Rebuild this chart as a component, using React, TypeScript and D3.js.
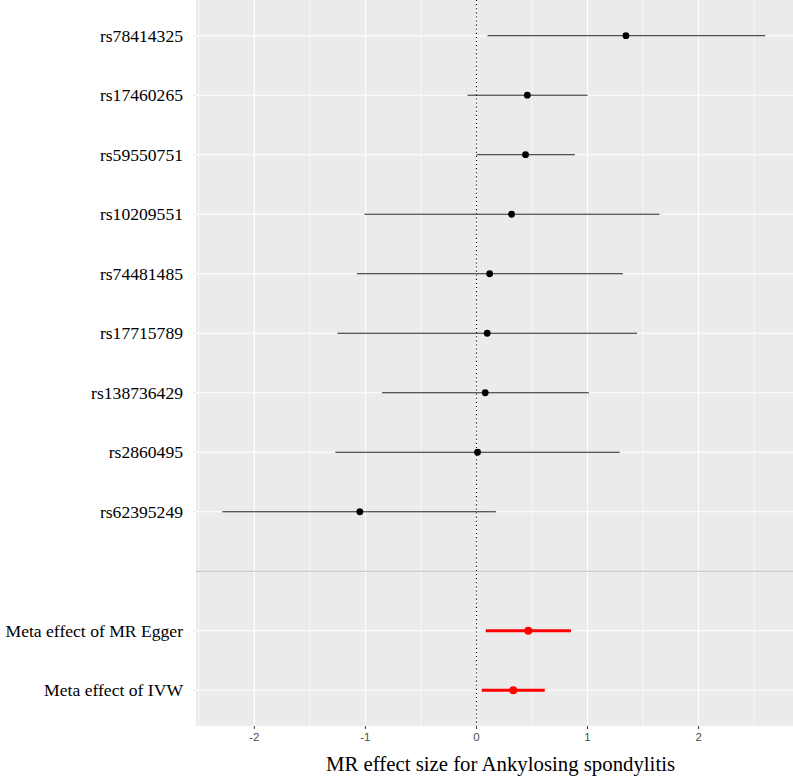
import React from "react";
import * as d3 from "d3";

// SNP-level and pooled MR estimates (effect size with 95% CI)
const snpNames = [
  "rs78414325",
  "rs17460265",
  "rs59550751",
  "rs10209551",
  "rs74481485",
  "rs17715789",
  "rs138736429",
  "rs2860495",
  "rs62395249",
];
const snpEffect = [1.346, 0.458, 0.442, 0.316, 0.119, 0.097, 0.079, 0.01, -1.05];
const snpLower = [0.1, -0.08, 0.0, -1.009, -1.077, -1.251, -0.85, -1.27, -2.287];
const snpUpper = [2.6, 1.0, 0.886, 1.648, 1.318, 1.446, 1.012, 1.29, 0.175];

const metaNames = ["Meta effect of MR Egger", "Meta effect of IVW"];
const metaEffect = [0.467, 0.332];
const metaLower = [0.084, 0.048];
const metaUpper = [0.851, 0.615];

const separatorKey = "__separator__";
const xTicks = [-2, -1, 0, 1, 2];
const xMinorTicks = [-2.5, -1.5, -0.5, 0.5, 1.5, 2.5];
const xDomain: [number, number] = [-2.525, 2.85];
const xTitle = "MR effect size for Ankylosing spondylitis";

const W = 793;
const H = 777;
const panel = { left: 196, right: 793, top: 0, bottom: 726 };

export default function App() {
  const rows = [...snpNames, separatorKey, ...metaNames];
  const x = d3.scaleLinear().domain(xDomain).range([panel.left, panel.right]);
  const y = d3
    .scalePoint<string>()
    .domain(rows)
    .range([panel.top, panel.bottom])
    .padding(0.6);

  const snpRows = snpNames.map((name, i) => ({
    name,
    est: snpEffect[i],
    lo: snpLower[i],
    hi: snpUpper[i],
  }));
  const metaRows = metaNames.map((name, i) => ({
    name,
    est: metaEffect[i],
    lo: metaLower[i],
    hi: metaUpper[i],
  }));

  const serif = "'Liberation Serif', 'Times New Roman', serif";
  const sans = "'Liberation Sans', Arial, sans-serif";

  return (
    <div>
      <style>{`body{margin:0}`}</style>
      <svg width={W} height={H} style={{ display: "block", background: "#fff" }}>
        <rect
          x={panel.left}
          y={panel.top}
          width={panel.right - panel.left}
          height={panel.bottom - panel.top}
          fill="#EBEBEB"
        />
        {/* minor vertical grid */}
        {xMinorTicks.map((t) => (
          <line
            key={"mn" + t}
            x1={x(t)}
            x2={x(t)}
            y1={panel.top}
            y2={panel.bottom}
            stroke="#fff"
            strokeWidth={0.6}
          />
        ))}
        {/* major vertical grid */}
        {xTicks.map((t) => (
          <line
            key={"mj" + t}
            x1={x(t)}
            x2={x(t)}
            y1={panel.top}
            y2={panel.bottom}
            stroke="#fff"
            strokeWidth={1.1}
          />
        ))}
        {/* horizontal grid, one per row */}
        {rows.map((r) => (
          <line
            key={"h" + r}
            x1={panel.left}
            x2={panel.right}
            y1={y(r)}
            y2={y(r)}
            stroke="#fff"
            strokeWidth={1.1}
          />
        ))}
        {/* separator between SNPs and pooled estimates */}
        <line
          x1={panel.left}
          x2={panel.right}
          y1={y(separatorKey)}
          y2={y(separatorKey)}
          stroke="#BBBBBB"
          strokeWidth={1.1}
        />
        {/* null effect reference */}
        <line
          x1={x(0)}
          x2={x(0)}
          y1={panel.top}
          y2={panel.bottom}
          stroke="#000"
          strokeWidth={1.1}
          strokeDasharray="1.1,3"
        />
        {/* SNP estimates */}
        {snpRows.map((d) => (
          <g key={d.name}>
            <line
              x1={x(d.lo)}
              x2={x(d.hi)}
              y1={y(d.name)}
              y2={y(d.name)}
              stroke="#222"
              strokeWidth={1}
            />
            <circle cx={x(d.est)} cy={y(d.name)} r={3.4} fill="#000" />
          </g>
        ))}
        {/* pooled estimates */}
        {metaRows.map((d) => (
          <g key={d.name}>
            <line
              x1={x(d.lo)}
              x2={x(d.hi)}
              y1={y(d.name)}
              y2={y(d.name)}
              stroke="#FF0000"
              strokeWidth={3}
            />
            <circle cx={x(d.est)} cy={y(d.name)} r={4} fill="#FF0000" />
          </g>
        ))}
        {/* y axis ticks and labels */}
        {rows
          .filter((r) => r !== separatorKey)
          .map((r) => (
            <g key={"yl" + r}>
              <line
                x1={panel.left - 2.75}
                x2={panel.left}
                y1={y(r)}
                y2={y(r)}
                stroke="#ddd"
                strokeWidth={1}
              />
              <text
                x={183}
                y={(y(r) as number) + 5.8}
                textAnchor="end"
                fontFamily={serif}
                fontSize={17.6}
                fill="#000"
              >
                {r}
              </text>
            </g>
          ))}
        {/* x axis ticks and labels */}
        {xTicks.map((t) => (
          <g key={"xt" + t}>
            <line
              x1={x(t)}
              x2={x(t)}
              y1={panel.bottom}
              y2={panel.bottom + 3}
              stroke="#333"
              strokeWidth={1}
            />
            <text
              x={x(t)}
              y={panel.bottom + 15}
              textAnchor="middle"
              fontFamily={sans}
              fontSize={11.5}
              fill="#4D4D4D"
            >
              {t}
            </text>
          </g>
        ))}
        <text
          x={(panel.left + panel.right) / 2 + 6}
          y={771}
          textAnchor="middle"
          fontFamily={serif}
          fontSize={20.8}
          fill="#000"
        >
          {xTitle}
        </text>
      </svg>
    </div>
  );
}
